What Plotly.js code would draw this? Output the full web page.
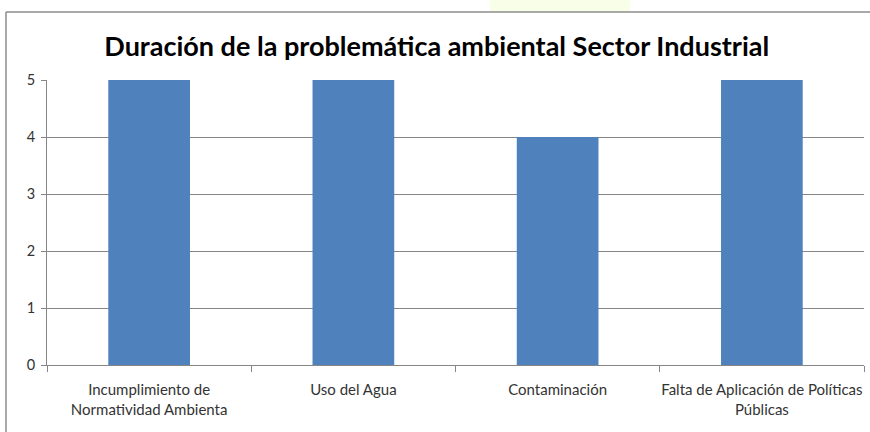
<!DOCTYPE html>
<html>
<head>
<meta charset="utf-8">
<script src="https://cdn.plot.ly/plotly-3.0.1.min.js"></script>
<style>
  html, body { margin: 0; padding: 0; background: #ffffff; }
  #chart { width: 870px; height: 432px; }
</style>
</head>
<body>
<div id="chart"></div>
<script>
// Problem categories and how long each has lasted
const categories = [
  "Incumplimiento de<br>Normatividad Ambienta",
  "Uso del Agua",
  "Contaminación",
  "Falta de Aplicación de Políticas<br>Públicas"
];
const duration = [5, 5, 4, 5];
const yTicks = [0, 1, 2, 3, 4, 5];

const axisGray = "#868686";
const font = "Lato, 'Open Sans', sans-serif";

const trace = {
  type: "bar",
  x: categories,
  y: duration,
  marker: { color: "#4F81BD", line: { width: 0 } },
  hoverinfo: "x+y"
};

const layout = {
  width: 870,
  height: 432,
  margin: { l: 47, r: 6, t: 80, b: 67 },
  paper_bgcolor: "#ffffff",
  plot_bgcolor: "#ffffff",
  showlegend: false,
  bargap: 0.6,
  title: {
    text: "<b>Duración de la problemática ambiental Sector Industrial</b>",
    font: { family: font, size: 27, color: "#000000" },
    x: 0.502,
    xanchor: "center",
    y: 0.892,
    yanchor: "middle"
  },
  xaxis: {
    type: "category",
    tickson: "boundaries",
    tickangle: 0,
    ticks: "outside",
    ticklen: 6,
    tickcolor: axisGray,
    showline: true,
    linecolor: axisGray,
    linewidth: 1,
    showgrid: false,
    ticklabelstandoff: 11,
    tickfont: { family: font, size: 15, color: "#333333" },
    fixedrange: true
  },
  yaxis: {
    range: [0, 5],
    tickvals: yTicks,
    ticks: "outside",
    ticklen: 5,
    tickcolor: axisGray,
    showline: true,
    linecolor: axisGray,
    linewidth: 1,
    showgrid: true,
    gridcolor: axisGray,
    gridwidth: 1,
    zeroline: false,
    ticklabelstandoff: 3,
    tickfont: { family: font, size: 14.5, color: "#333333" },
    fixedrange: true
  },
  shapes: [
    // faint highlight glow above the frame
    {
      type: "rect", xref: "paper", yref: "paper", layer: "below",
      x0: 0.542, x1: 0.714, y0: 1.2386, y1: 1.29,
      fillcolor: "rgba(240,252,205,0.45)", line: { width: 0 }
    },
    // outer chart frame (left and top edges)
    {
      type: "line", xref: "paper", yref: "paper",
      x0: -0.0502, x1: -0.0502, y0: -0.3, y1: 1.2386,
      line: { color: "#8c8c8c", width: 1.5 }
    },
    {
      type: "line", xref: "paper", yref: "paper",
      x0: -0.0502, x1: 1.05, y0: 1.2386, y1: 1.2386,
      line: { color: "#8c8c8c", width: 1.5 }
    }
  ]
};

Plotly.newPlot("chart", [trace], layout, { displayModeBar: false, staticPlot: true });
</script>
</body>
</html>
